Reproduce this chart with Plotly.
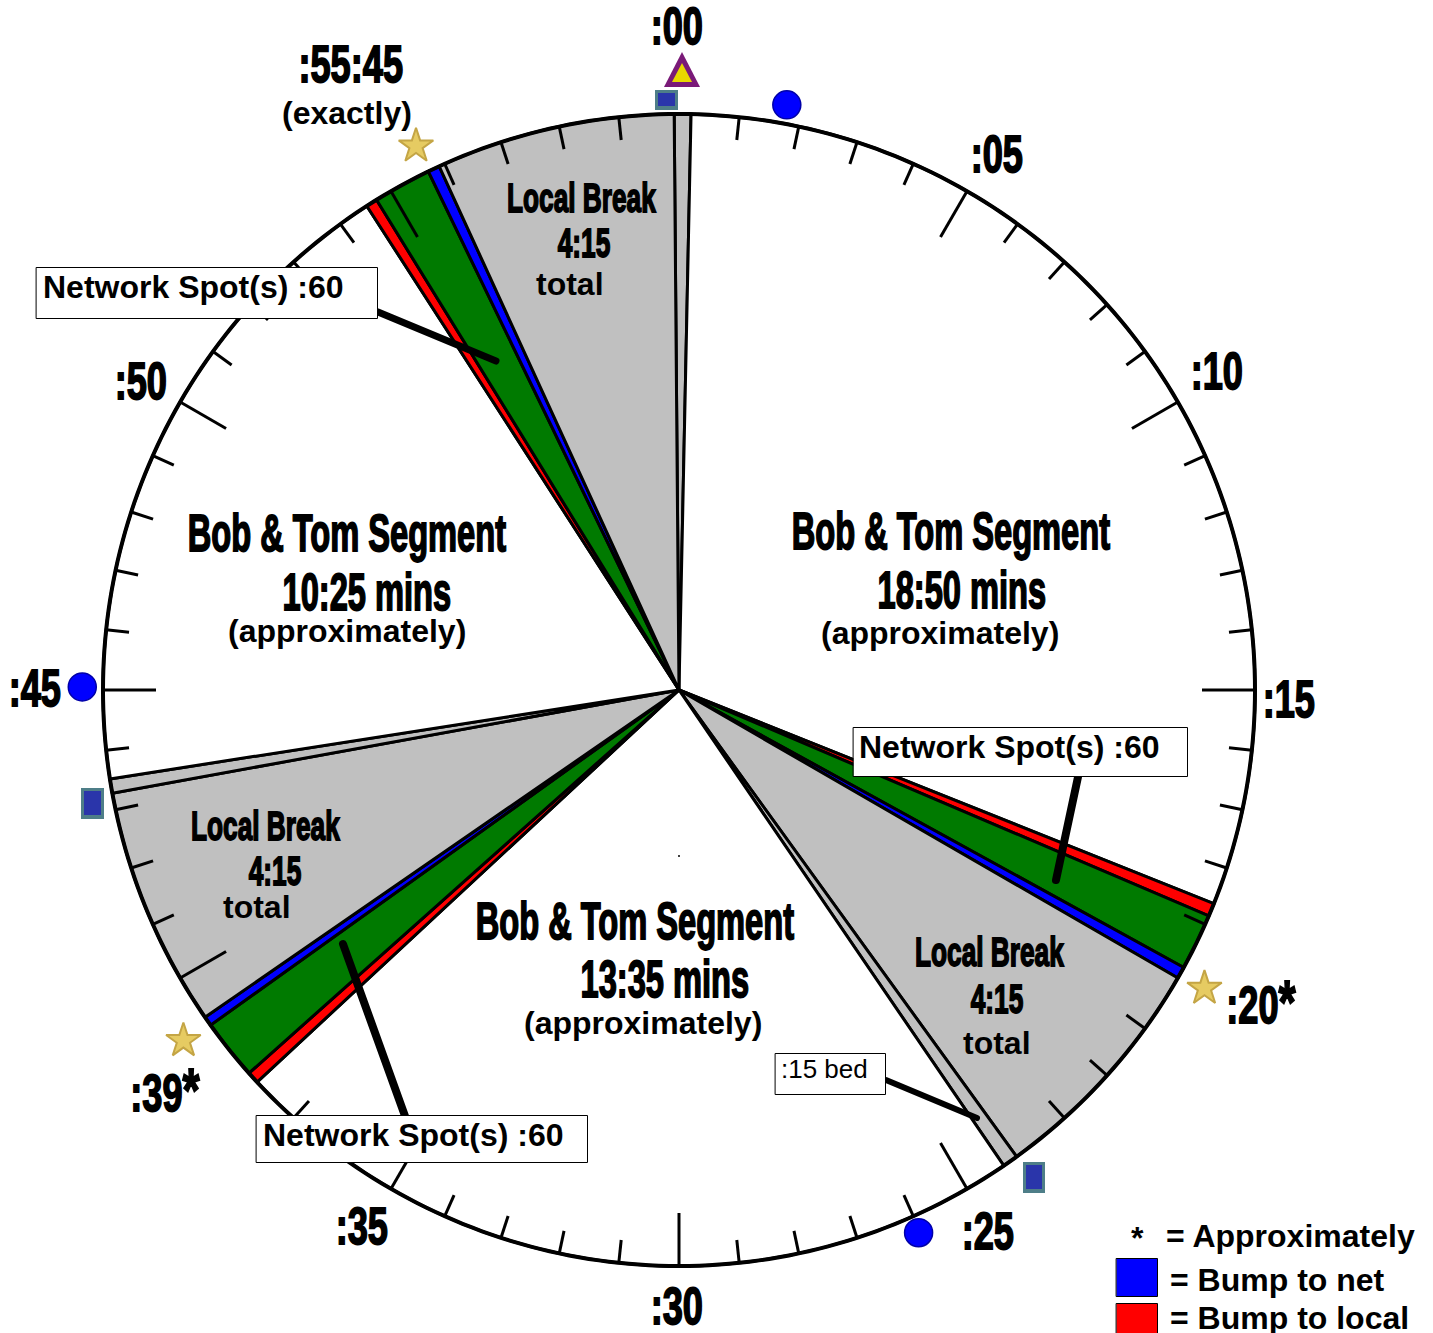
import plotly.graph_objects as go

# --- data (minutes on the clock face) ---
segment_names = ["bed", "Bob & Tom", "Bump to local", "Network", "Bump to net",
                 "Local Break", "bed", "Bob & Tom", "Bump to local", "Network", "Bump to net",
                 "Local Break", "bed", "Bob & Tom", "Bump to local", "Network", "Bump to net",
                 "Local Break"]
segment_starts = [-0.08, 0.20, 18.63, 18.85, 19.80, 20.00, 24.02, 24.28, 37.85, 38.05, 39.07,
                  39.23, 43.28, 43.52, 54.53, 54.72, 55.70, 55.90]
segment_ends = [0.20, 18.63, 18.85, 19.80, 20.00, 24.02, 24.28, 37.85, 38.05, 39.07, 39.23,
                43.28, 43.52, 54.53, 54.72, 55.70, 55.90, 59.92]
segment_colors = {"bed": "#C0C0C0", "Bob & Tom": "#FFFFFF", "Bump to local": "#FF0000",
                  "Network": "#007A00", "Bump to net": "#0000FF", "Local Break": "#C0C0C0"}
minor_minutes = [1, 2, 3, 4, 6, 7, 8, 9, 11, 12, 13, 14, 16, 17, 18, 19, 21, 22, 23, 26, 27, 28, 29,
                 31, 32, 33, 34, 36, 37, 41, 42, 43, 44, 46, 47, 48, 49, 51, 52, 53, 54, 56, 57, 58, 59]
major_minutes = [5, 10, 15, 25, 30, 35, 40, 45, 50, 55]
star_minutes = [55.7, 19.93, 39.12]
star_radii = [1.049, 1.049, 1.054]
circle_minutes = [1.74, 45.05, 26.03]
circle_radii = [1.033, 1.036, 1.03]

W, H = 1433, 1333
CX, CY, R = 679, 690, 576
RMAX = 1.07  # the axis runs a little past the clock rim so the icons outside it can be drawn
DISPLAY = "'Liberation Sans', Arial"
SANS = "Liberation Sans"


def px(x):
    return x / W


def py(y):
    return 1 - y / H


fig = go.Figure()

fig.add_trace(go.Barpolar(
    theta=[(a + b) / 2 * 6 for a, b in zip(segment_starts, segment_ends)],
    width=[(b - a) * 6 for a, b in zip(segment_starts, segment_ends)],
    r=[1] * len(segment_names),
    text=segment_names,
    marker=dict(color=[segment_colors[n] for n in segment_names],
                line=dict(color="black", width=3)),
    hoverinfo="text", showlegend=False))


def tick_trace(minutes, length):
    th, rr = [], []
    for m in minutes:
        th += [m * 6, m * 6, None]
        rr += [1, 1 - length / R, None]
    return go.Scatterpolar(theta=th, r=rr, mode="lines", line=dict(color="black", width=3),
                           hoverinfo="skip", showlegend=False)


fig.add_trace(tick_trace(minor_minutes, 23))
fig.add_trace(tick_trace(major_minutes, 53))
# clock rim
fig.add_trace(go.Scatterpolar(theta=list(range(0, 361)), r=[1] * 361, mode="lines",
                              line=dict(color="black", width=4), hoverinfo="skip", showlegend=False))

fig.add_trace(go.Scatterpolar(
    theta=[m * 6 for m in star_minutes], r=star_radii, mode="markers",
    marker=dict(symbol="star", size=26, color="#E6CB62", line=dict(color="#C4A545", width=2)),
    hoverinfo="skip", showlegend=False))
fig.add_trace(go.Scatterpolar(
    theta=[m * 6 for m in circle_minutes], r=circle_radii, mode="markers",
    marker=dict(symbol="circle", size=28, color="#0000FF", line=dict(color="#0000A8", width=1.5)),
    hoverinfo="skip", showlegend=False))
fig.add_trace(go.Scatterpolar(
    theta=[180], r=[0.288], mode="markers",
    marker=dict(symbol="circle", size=2, color="black"), hoverinfo="skip", showlegend=False))

shapes = []


def leader(x0, y0, x1, y1, w):
    shapes.append(dict(type="line", xref="paper", yref="paper", x0=px(x0), y0=py(y0), x1=px(x1), y1=py(y1),
                       line=dict(color="black", width=w)))


def box(x0, y0, x1, y1, fill, line="black", w=1):
    shapes.append(dict(type="rect", xref="paper", yref="paper", x0=px(x0), y0=py(y0), x1=px(x1), y1=py(y1),
                       fillcolor=fill, line=dict(color=line, width=w)))


def tile(x0, y0, x1, y1):
    box(x0, y0, x1, y1, "#4E7E88", "#4E7E88", 0)
    box(x0 + 3, y0 + 3, x1 - 3, y1 - 4, "#2A35AA", "#2A35AA", 0)


def tri(x0, y0, x1, y1, x2, y2, fill):
    shapes.append(dict(type="path", xref="paper", yref="paper",
                       path=f"M{px(x0)},{py(y0)} L{px(x1)},{py(y1)} L{px(x2)},{py(y2)} Z",
                       fillcolor=fill, line=dict(width=0)))


leader(378, 312, 496, 361, 7)
leader(1078, 777, 1056, 880, 8)
leader(343, 944, 405, 1116, 8)
leader(886, 1080, 977, 1118, 6)
box(36.5, 267.5, 377.5, 318.5, "white")
box(853.5, 727.5, 1187.5, 776.5, "white")
box(256.5, 1115.5, 587.5, 1162.5, "white")
box(775.5, 1053.5, 885.5, 1094.5, "white")
tile(655, 90, 678, 110)
tile(81, 788, 104, 819)
tile(1023, 1162, 1045, 1193)
tri(664, 87, 682, 52, 700, 87, "#7A1A78")
tri(672, 82, 682, 63, 692, 82, "#E8D800")
box(1116.5, 1258.5, 1157.5, 1296.5, "#0000FF")
box(1116.5, 1303.5, 1157.5, 1334, "#FF0000")

notes = []


def label(x, y, text, size, family=SANS, bold=True):
    notes.append(dict(xref="paper", yref="paper", x=px(x), y=py(y), text=text, showarrow=False,
                      xanchor="center", yanchor="middle", borderpad=0,
                      font=dict(family=family, size=size, color="black", weight=700 if bold else 400)))


for x, y, t in [(677, 27, ":00"), (350, 65, ":55:45"), (997, 155, ":05"), (1217, 371, ":10"),
                (1289, 699, ":15"), (988, 1231, ":25"), (677, 1306, ":30"),
                (362, 1226, ":35"), (35, 688, ":45"), (141, 381, ":50"),
                (951, 531, "Bob &amp; Tom Segment"), (962, 590, "18:50 mins"),
                (347, 533, "Bob &amp; Tom Segment"), (367, 592, "10:25 mins"),
                (635, 921, "Bob &amp; Tom Segment"), (665, 980, "13:35 mins")]:
    label(x, y, t, 51, DISPLAY)
for x, y, t in [(1261, 1001, ":20<span style='font-size:62px'>*</span>"),
                (165, 1089, ":39<span style='font-size:62px'>*</span>")]:
    label(x, y, t, 51, DISPLAY)
for x, y, t in [(581, 198, "Local Break"), (584, 243, "4:15"), (989, 952, "Local Break"), (997, 999, "4:15"),
                (265, 826, "Local Break"), (275, 871, "4:15")]:
    label(x, y, t, 41, DISPLAY)
for x, y, t in [(347, 113, "(exactly)"), (940, 633, "(approximately)"), (347, 631, "(approximately)"),
                (643, 1023, "(approximately)"), (570, 284, "total"), (997, 1043, "total"), (257, 907, "total"),
                (193, 287, "Network Spot(s) :60"), (1009, 747, "Network Spot(s) :60"),
                (413, 1135, "Network Spot(s) :60"), (1137, 1238, "*"), (1290, 1236, "= Approximately"),
                (1277, 1280, "= Bump to net"), (1289, 1318, "= Bump to local")]:
    label(x, y, t, 32)
label(824, 1069, ":15 bed", 26, bold=False)

fig.update_layout(
    width=W, height=H, autosize=False, margin=dict(l=0, r=0, t=0, b=0, pad=0),
    paper_bgcolor="white", showlegend=False, shapes=shapes, annotations=notes,
    polar=dict(
        domain=dict(x=[(CX - R * RMAX) / W, (CX + R * RMAX) / W],
                    y=[(H - CY - R * RMAX) / H, (H - CY + R * RMAX) / H]),
        bgcolor="rgba(0,0,0,0)", barmode="overlay",
        radialaxis=dict(visible=False, range=[0, RMAX]),
        angularaxis=dict(direction="clockwise", rotation=90, showgrid=False, ticks="",
                         showticklabels=False, showline=False),
    ),
)

# the reference's heavy compressed display face: squeeze and thicken those labels
post = """
var squeeze = function () {
  document.body.style.margin = '0';
  document.querySelectorAll('g.annotation text').forEach(function (t) {
    if ((t.style.fontFamily || '').indexOf('Arial') >= 0) {
      var clock = (t.textContent || '').charAt(0) === ':';
      t.style.transformBox = 'fill-box';
      t.style.transformOrigin = 'center';
      t.style.transform = clock ? 'scaleX(0.71)' : 'scaleX(0.64)';
      t.style.stroke = 'black';
      t.style.strokeWidth = '1.8px';
    }
  });
  document.querySelectorAll('g.shapelayer path').forEach(function (p) {
    p.style.strokeLinecap = 'round';
  });
};
squeeze();
setTimeout(squeeze, 100);
"""
fig.write_html("out.html", post_script=post, config=dict(displayModeBar=False))
